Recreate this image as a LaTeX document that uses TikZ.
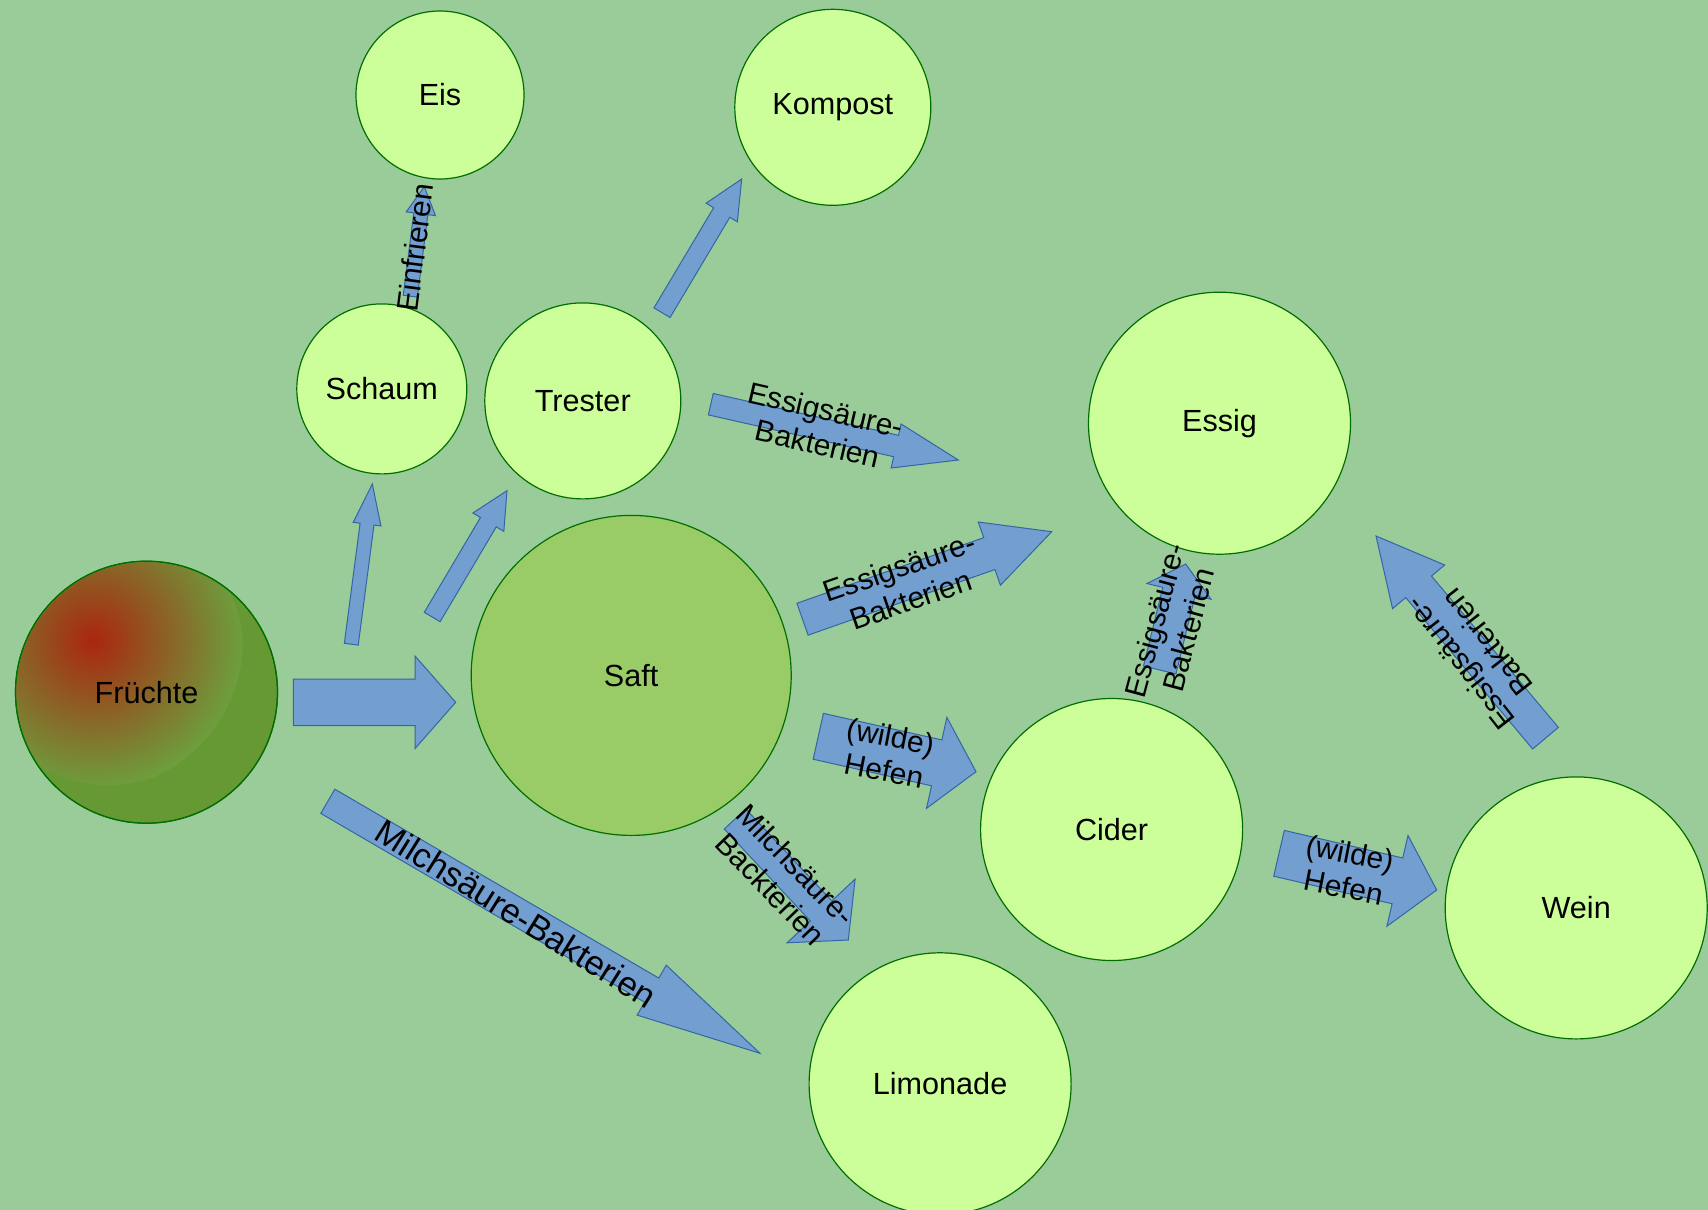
\documentclass[tikz,border=0pt]{standalone}
\usepackage{fontspec}
\setmainfont{Liberation Sans}
\usetikzlibrary{calc}
\definecolor{bg}{RGB}{153,204,153}
\definecolor{lite}{RGB}{204,255,153}
\definecolor{saftc}{RGB}{153,204,102}
\definecolor{fruc}{RGB}{102,153,51}
\definecolor{frured}{RGB}{170,38,15}
\definecolor{frulight}{RGB}{108,160,62}
\definecolor{edgec}{RGB}{0,110,0}
\definecolor{arrf}{RGB}{114,159,207}
\definecolor{arrd}{RGB}{52,101,164}
\tikzset{
  circ/.style={circle, draw=edgec, line width=0.6pt, fill=lite, inner sep=0pt,
    font=\fontsize{15.3}{17.6}\selectfont},
  barrow/.style={fill=arrf, draw=arrd, line width=0.5pt, line join=miter},
  lab/.style={font=\fontsize{15}{17.4}\selectfont, align=center, inner sep=0pt},
  biglab/.style={font=\fontsize{17.2}{19.8}\selectfont, align=center, inner sep=0pt},
}
% #1 tail, #2 tip, #3 shaft half width, #4 head half width, #5 head length
\newcommand{\blockarrow}[5]{%
  \path ($(#2)!#5!(#1)$) coordinate (hb);
  \draw[barrow] ($(#1)!#3!90:(#2)$) -- ($(hb)!#3!90:(#2)$) -- ($(hb)!#4!90:(#2)$)
    -- (#2) -- ($(hb)!#4!-90:(#2)$) -- ($(hb)!#3!-90:(#2)$) -- ($(#1)!#3!-90:(#2)$) -- cycle;}
\begin{document}
\begin{tikzpicture}[x=0.5pt,y=-0.5pt]
\useasboundingbox (0,0) rectangle (1708,1210);
\clip (0,0) rectangle (1708,1210);
\fill[bg] (0,0) rectangle (1708,1210);

% circles
\node[circ, minimum size=84pt] (eis) at (440,95) {Eis};
\node[circ, minimum size=98pt] (kompost) at (832.8,107.3) {Kompost};
\node[circ, minimum size=85pt] (schaum) at (381.8,388.9) {Schaum};
\node[circ, minimum size=98pt] (trester) at (582.8,400.9) {Trester};
\node[circ, minimum size=131pt] (essig) at (1219.5,423.2) {Essig};
\node[circ, minimum size=160pt, fill=saftc] (saft) at (631.2,675.4) {Saft};
\node[circ, minimum size=131pt] (cider) at (1111.6,829.5) {Cider};
\node[circ, minimum size=131pt] (wein) at (1576.2,907.9) {Wein};
\node[circ, minimum size=131pt] (limo) at (940.1,1083.8) {Limonade};
\node[circ, minimum size=131pt, fill=fruc] (fruechte) at (146.5,692.2) {};
\begin{scope}
  \clip (146.5,692.2) circle[radius=130];
  \clip (108,650) circle[radius=135];
  \clip (0,0) rectangle (400,787);
  \shade[inner color=frured, outer color=frulight] (93,640) circle[radius=150];
\end{scope}
\node[circ, minimum size=131pt, fill=none] (fruechtetext) at (fruechte) {Früchte};

% arrow end points
\coordinate (a1) at (293.3,702.3);   \coordinate (a2) at (455.7,702.3);
\coordinate (b1) at (351.3,644.2);   \coordinate (b2) at (372.3,484);
\coordinate (c1) at (432.2,617);     \coordinate (c2) at (507,490.7);
\coordinate (d1) at (662,312.7);     \coordinate (d2) at (741.7,179);
\coordinate (e1) at (410.3,296.2);   \coordinate (e2) at (424.3,186.7);
\coordinate (f1) at (710.8,404.2);   \coordinate (f2) at (958.3,460);
\coordinate (g1) at (802.5,619.2);   \coordinate (g2) at (1051.7,531.7);
\coordinate (h1) at (1159.7,670);    \coordinate (h2) at (1185.7,564);
\coordinate (i1) at (1545.5,738.2);  \coordinate (i2) at (1376,536);
\coordinate (j1) at (818.3,736.3);   \coordinate (j2) at (976,771.7);
\coordinate (k1) at (1279,853.3);    \coordinate (k2) at (1436.7,890);
\coordinate (l1) at (735,819);       \coordinate (l2) at (848.3,940);
\coordinate (m1) at (327.8,801.3);   \coordinate (m2) at (760,1053.3);

\blockarrow{a1}{a2}{11.65pt}{23.15pt}{20.35pt}
\blockarrow{b1}{b2}{3.5pt}{7pt}{20.25pt}
\blockarrow{c1}{c2}{4.6pt}{9pt}{18.3pt}
\blockarrow{d1}{d2}{4.7pt}{9.1pt}{19.5pt}
\blockarrow{e1}{e2}{3.55pt}{7.4pt}{13.65pt}
\blockarrow{f1}{f2}{5.5pt}{11.3pt}{31.9pt}
\blockarrow{g1}{g2}{8.45pt}{16.75pt}{33.05pt}
\blockarrow{h1}{h2}{8.35pt}{16.5pt}{14.1pt}
\blockarrow{i1}{i2}{8.4pt}{17pt}{33.15pt}
\blockarrow{j1}{j2}{11.75pt}{23.3pt}{20.15pt}
\blockarrow{k1}{k2}{11.75pt}{23.3pt}{20.15pt}
\blockarrow{l1}{l2}{7.35pt}{23.3pt}{19.9pt}
\blockarrow{m1}{m2}{7pt}{14.45pt}{62.7pt}

% labels
\node[lab, rotate=82.7] (tEinfrieren) at (415,247.3) {Einfrieren};
\node[lab, rotate=-13] (tTE) at (821.7,426.7) {Essigsäure-\\Bakterien};
\node[lab, rotate=19] (tSE) at (905,583.3) {Essigsäure-\\Bakterien};
\node[lab, rotate=75] (tCE) at (1171.7,625) {Essigsäure-\\Bakterien};
\node[lab, rotate=128] (tWE) at (1473.3,653.3) {Essigsäure-\\Bakterien};
\node[lab, rotate=-11] (tSC) at (887.3,753.3) {(wilde)\\Hefen};
\node[lab, rotate=-11] (tCW) at (1346.7,870) {(wilde)\\Hefen};
\node[lab, rotate=-46] (tSL) at (783.3,876.7) {Milchsäure-\\Backterien};
\node[biglab, rotate=-32] (tFL) at (516,913.3) {Milchsäure-Bakterien};
\end{tikzpicture}
\end{document}
